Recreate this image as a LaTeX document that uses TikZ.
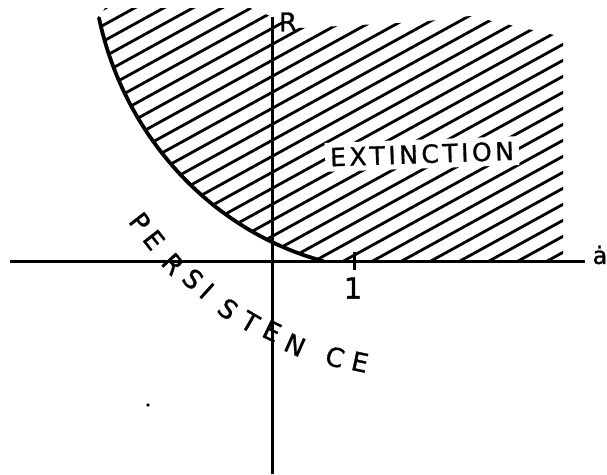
\documentclass[tikz,border=0pt]{standalone}
\usepackage{fontspec}
\setmainfont{DejaVu Sans}[FakeBold=1.2]
\newfontfamily\hand{DejaVu Sans}[FakeBold=1.2,LetterSpace=14]
\begin{document}
\begin{tikzpicture}[x=1pt,y=-1pt,
  axis/.style={line width=3pt},
  boundary/.style={line width=3.8pt, line cap=round},
  hatch/.style={line width=2.8pt, line cap=round},
  lbl/.style={inner sep=0pt, font=\fontsize{26}{26}\selectfont},
  pl/.style={inner sep=0pt, font=\fontsize{26}{26}\selectfont}]
\useasboundingbox (0,0) rectangle (607,474);
% hatching
\begin{scope}
\clip (99,18) .. controls (125,140) and (215,232) .. (323,261) -- (563,261) -- (563,37) -- (470,16) -- (420,22) -- (300,28) -- (250,8) -- (105,8) -- cycle;
\foreach \c in {50,66,...,610} \draw[hatch] (0,\c) -- (700,\c-385);
\end{scope}
% boundary curve
\coordinate (c0) at (99,18);
\coordinate (c1) at (323,261);
\draw[boundary] (c0) .. controls (125,140) and (215,232) .. (c1);
% axes
\coordinate (xl) at (10,261);
\coordinate (xr) at (585,261);
\coordinate (yt) at (272,17);
\coordinate (yb) at (272,474);
\draw[axis] (xl) -- (xr);
\draw[axis] (yt) -- (yb);
\coordinate (tk1) at (354,252);
\coordinate (tk2) at (354,270);
\draw[axis] (tk1) -- (tk2);
% labels
\node[lbl] (R) at (288,22) {R};
\node[lbl, font=\fontsize{24}{24}\selectfont] (a) at (600,255) {ȧ};
\node[lbl, font=\fontsize{29}{29}\selectfont] (one) at (353,288) {1};
\node[fill=white, inner sep=5pt, font=\hand\fontsize{25}{25}\selectfont, rotate=2] (ext) at (422,154) {EXTINCTION};
% PERSISTENCE
\node[pl, rotate=-52] (p1) at (140,222) {P};
\node[pl, rotate=-52] (p2) at (154,240) {E};
\node[pl, rotate=-48] (p3) at (173,264) {R};
\node[pl, rotate=-44] (p4) at (193,279) {S};
\node[pl, rotate=-42] (p5) at (207,291) {I};
\node[pl, rotate=-38] (p6) at (228,309) {S};
\node[pl, rotate=-30] (p7) at (250,322) {T};
\node[pl, rotate=-26] (p8) at (272,331) {E};
\node[pl, rotate=-24] (p9) at (295,345) {N};
\node[pl, rotate=-16] (p10) at (335,357) {C};
\node[pl, rotate=-12] (p11) at (360,362) {E};
% stray dot
\fill (148,405) circle (1.8);
\end{tikzpicture}
\end{document}
